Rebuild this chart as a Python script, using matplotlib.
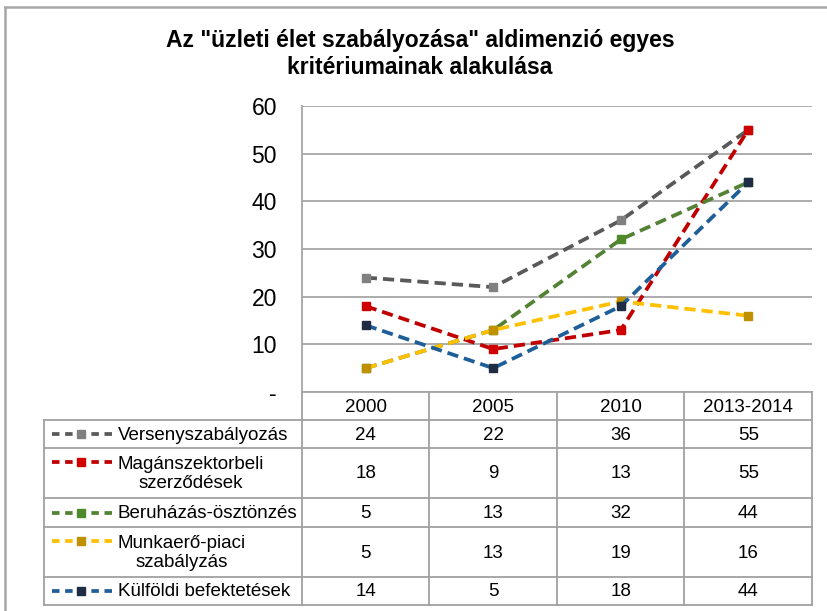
import matplotlib
matplotlib.use("Agg")
import matplotlib.pyplot as plt
from matplotlib.lines import Line2D

plt.rcParams['font.family'] = ['Liberation Sans', 'DejaVu Sans']

title = 'Az "üzleti élet szabályozása" aldimenzió egyes\nkritériumainak alakulása'
categories = ['2000', '2005', '2010', '2013-2014']
series_names = ['Versenyszabályozás', 'Magánszektorbeli\nszerződések',
                'Beruházás-ösztönzés', 'Munkaerő-piaci\nszabályzás',
                'Külföldi befektetések']
verseny = [24, 22, 36, 55]
magan = [18, 9, 13, 55]
beruhazas = [5, 13, 32, 44]
munkaero = [5, 13, 19, 16]
kulfoldi = [14, 5, 18, 44]
values = [verseny, magan, beruhazas, munkaero, kulfoldi]
line_colors = ['#595959', '#C00000', '#548235', '#FFC000', '#1F5F99']
marker_colors = ['#808080', '#D00000', '#4E8A2A', '#BF9000', '#1F2D44']
yticks = [0, 10, 20, 30, 40, 50, 60]
ytick_labels = ['-', '10', '20', '30', '40', '50', '60']

W, H = 828, 611
fig = plt.figure(figsize=(W / 100, H / 100), dpi=100)

# pixel layout
ax_left, ax_right, ax_top, ax_bottom = 302, 812, 106, 392
table_left = 44
row_edges = [392, 420, 448, 498, 527, 577, 605]
grid_c = '#A6A6A6'
tab_c = '#A0A0A0'

ax = fig.add_axes([ax_left / W, 1 - ax_bottom / H,
                   (ax_right - ax_left) / W, (ax_bottom - ax_top) / H])
ax.set_xlim(-0.5, len(categories) - 0.5)
ax.set_ylim(0, 60)
ax.set_yticks(yticks)
ax.set_yticklabels(ytick_labels, fontsize=16.5)
ax.set_xticks([])
ax.tick_params(axis='y', length=0, pad=18, colors='#000000')
for s in ['top', 'right', 'bottom']:
    ax.spines[s].set_visible(False)
ax.spines['left'].set_color(grid_c)
ax.spines['left'].set_linewidth(1.3)
ax.yaxis.grid(True, color=grid_c, linewidth=1.3)
ax.set_axisbelow(True)
ax.patch.set_alpha(0)

LW = 2.7
dash = (3.0, 1.6)
xs = list(range(len(categories)))
for vals, lc, mc in zip(values, line_colors, marker_colors):
    ax.plot(xs, vals, color=lc, linewidth=LW, linestyle=(0, dash),
            marker='s', markersize=5.5, markerfacecolor=mc,
            markeredgecolor=mc, clip_on=False, zorder=3)

# overlay in pixel coordinates for title, table and frame
ov = fig.add_axes([0, 0, 1, 1], zorder=5)
ov.set_xlim(0, W)
ov.set_ylim(H, 0)
ov.axis('off')
ov.patch.set_alpha(0)

# outer frame (left and top)
ov.plot([5, 5], [H + 5, 7], color='#A8A8A8', linewidth=1.8)
ov.plot([5, W + 5], [7, 7], color='#A8A8A8', linewidth=1.8)

ov.text(420, 54, title, ha='center', va='center', fontsize=16.5,
        fontweight='bold', linespacing=1.22)

col_w = (ax_right - ax_left) / len(categories)
col_edges = [ax_left + i * col_w for i in range(len(categories) + 1)]

# table lines
lw = 1.3
ov.plot([ax_left, ax_right], [row_edges[0], row_edges[0]], color=grid_c, lw=lw)
for y in row_edges[1:]:
    ov.plot([table_left, ax_right], [y, y], color=tab_c, lw=lw)
ov.plot([table_left, table_left], [row_edges[1], row_edges[-1]], color=tab_c, lw=lw)
for x in col_edges:
    ov.plot([x, x], [row_edges[0], row_edges[-1]], color=tab_c, lw=lw)

# header
for i, c in enumerate(categories):
    ov.text((col_edges[i] + col_edges[i + 1]) / 2,
            (row_edges[0] + row_edges[1]) / 2 + 1, c,
            ha='center', va='center', fontsize=13.5)

# rows
for r, (name, vals, lc, mc) in enumerate(zip(series_names, values,
                                               line_colors, marker_colors)):
    y0, y1 = row_edges[r + 1], row_edges[r + 2]
    yc = (y0 + y1) / 2 + 1
    two = '\n' in name
    key_y = y0 + 14 if two else yc - 1
    ov.add_line(Line2D([52, 113], [key_y, key_y], color=lc, linewidth=LW,
                       linestyle=(0, (2.0, 1.5))))
    ov.plot([81], [key_y], marker='s', markersize=5.5, color=mc, linestyle='none')
    ov.text(118, yc, name, ha='left', va='center', fontsize=13.5,
            multialignment='center', linespacing=1.1)
    for i, v in enumerate(vals):
        ov.text((col_edges[i] + col_edges[i + 1]) / 2, yc, str(v),
                ha='center', va='center', fontsize=13.5)

fig.savefig('out.png', dpi=100)
